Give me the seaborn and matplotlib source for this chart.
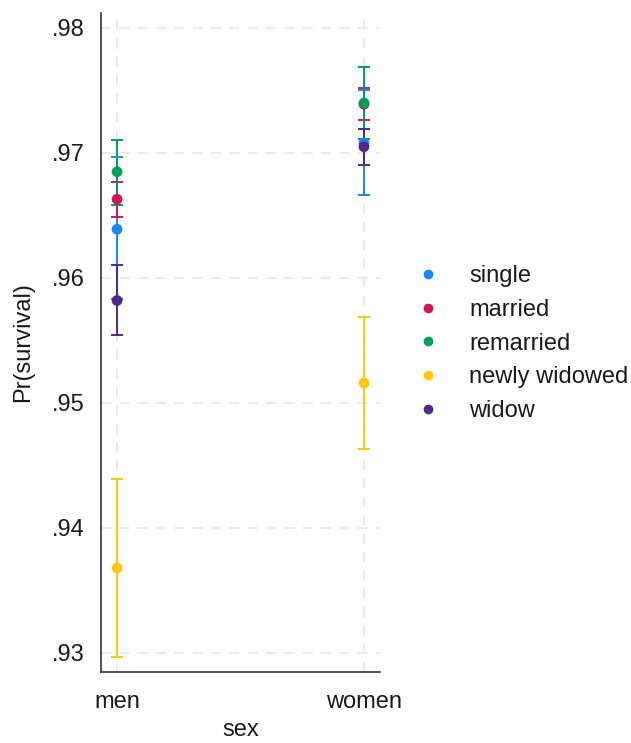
import matplotlib
matplotlib.use("Agg")
import matplotlib.pyplot as plt
import seaborn as sns
import pandas as pd
import numpy as np

sexes = ["men", "women"]
groups = ["single", "married", "remarried", "newly widowed", "widow"]
est_men = [0.9639, 0.9663, 0.9685, 0.9368, 0.9582]
lo_men = [0.9583, 0.9649, 0.9658, 0.9297, 0.9554]
hi_men = [0.9697, 0.9677, 0.9710, 0.9439, 0.9610]
est_women = [0.9708, 0.9739, 0.9740, 0.9516, 0.9705]
lo_women = [0.9666, 0.9726, 0.9711, 0.9463, 0.9690]
hi_women = [0.9750, 0.9752, 0.9769, 0.9569, 0.9719]
colors = ["#1a85ff", "#d41159", "#00a05a", "#ffc800", "#4b2991"]
yticks = [0.93, 0.94, 0.95, 0.96, 0.97, 0.98]
ytick_labels = [".93", ".94", ".95", ".96", ".97", ".98"]

rows = []
for i, g in enumerate(groups):
    rows.append(dict(sex="men", x=0, group=g, est=est_men[i], lo=lo_men[i], hi=hi_men[i]))
    rows.append(dict(sex="women", x=1, group=g, est=est_women[i], lo=lo_women[i], hi=hi_women[i]))
df = pd.DataFrame(rows)

sns.set_theme(style="white")
plt.rcParams["font.family"] = ["Liberation Sans", "DejaVu Sans"]

fig = plt.figure(figsize=(6.31, 7.43), dpi=100)
ax = fig.add_axes([101/631, 1-672/743, (380-101)/631, (672-13)/743])

ax.set_xlim(-0.065, 1.065)
ax.set_ylim(0.92848, 0.9812)

for xv in [0, 1]:
    ax.axvline(xv, color="#e6e6e6", lw=1.2, ls=(0, (6, 5)), zorder=0)
for yv in yticks:
    ax.axhline(yv, color="#e6e6e6", lw=1.2, ls=(0, (6, 5)), zorder=0)

palette = dict(zip(groups, colors))
for g in groups:
    d = df[df.group == g]
    ax.errorbar(d.x, d.est, yerr=[d.est - d.lo, d.hi - d.est], fmt="none",
                ecolor=palette[g], elinewidth=1.4, capsize=4, capthick=1.4, zorder=2)

sns.scatterplot(data=df, x="x", y="est", hue="group", hue_order=groups,
                palette=palette, s=60, edgecolor="none", ax=ax, zorder=3, legend=False)

ax.set_xticks([0, 1])
ax.set_xticklabels(sexes)
ax.set_yticks(yticks)
ax.set_yticklabels(ytick_labels)
ax.tick_params(axis="both", direction="out", length=7, width=1.2, color="#333333",
               labelsize=17, labelcolor="#1a1a1a", pad=4.5)
ax.tick_params(axis="x", pad=6.5)
ax.set_xlabel("sex", fontsize=17, color="#1a1a1a")
ax.set_ylabel("Pr(survival)", fontsize=17, color="#1a1a1a")
ax.yaxis.set_label_coords(-0.238, 0.5)
ax.xaxis.set_label_coords(0.5, -0.071)

for s in ["top", "right"]:
    ax.spines[s].set_visible(False)
for s in ["left", "bottom"]:
    ax.spines[s].set_color("#333333")
    ax.spines[s].set_linewidth(1.2)

handles = [plt.Line2D([], [], ls="none", marker="o", markersize=7, markerfacecolor=c,
                      markeredgecolor="none") for c in colors]
fig.legend(handles, groups, loc="upper left", bbox_to_anchor=(416/631, 1-265/743),
           frameon=False, fontsize=17, handletextpad=1.25, labelspacing=0.5,
           handlelength=1.0, borderaxespad=0, borderpad=0,
           labelcolor="#1a1a1a")

fig.savefig("out.png", dpi=100, facecolor="white")
